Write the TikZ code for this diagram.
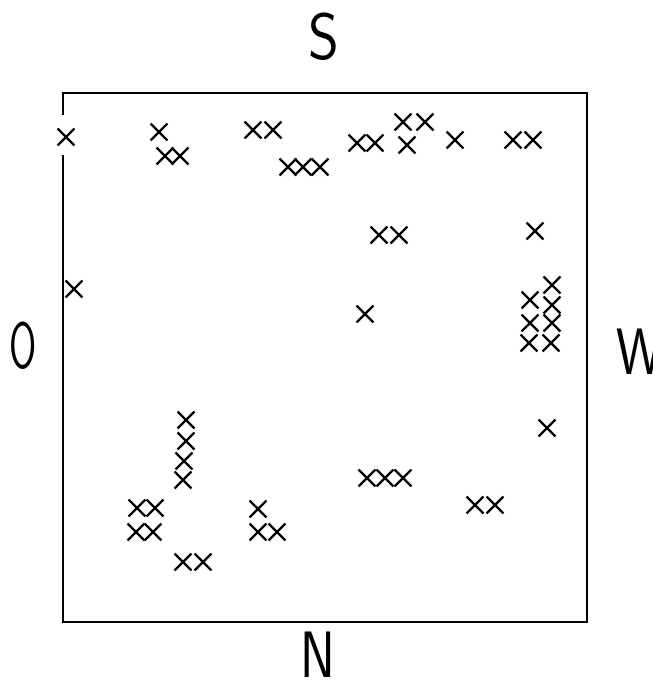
\documentclass[tikz,border=0pt]{standalone}
\usetikzlibrary{shapes.misc}

\begin{document}
\begin{tikzpicture}[x=0.03cm,y=-0.03cm,line width=1.6pt,
  cross/.style={cross out,draw,line width=1.9pt,minimum size=0.44cm,inner sep=0pt},
  side/.style={font={\fontsize{56}{56}\selectfont\sffamily}}]
\useasboundingbox (0,0) rectangle (652,681);
% frame, broken on the left where a cross sits on it
\draw (63,115)--(63,93)--(587,93)--(587,622)--(63,622)--(63,155);
\node[side] (south) at (324,37) {\scalebox{0.9}[1]{S}};
\node[side] (north) at (318,655) {\scalebox{0.8}[1]{N}};
\node[side] (east) at (23,346) {\scalebox{0.6}[1]{O}};
\node[side] (west) at (640,352) {\scalebox{0.8}[1]{W}};
% crosses
\foreach \px/\py [count=\k] in {66/137,159/132,165/156,180/156,253/130,273/130,
  288/167,303/167,320/167,357/143,375/143,403/122,425/122,407/145,455/140,
  513/140,533/140,74/289,379/235,399/235,535/231,365/314,552/285,530/300,
  552/305,530/323,552/323,529/343,551/343,186/420,186/441,184/461,183/480,
  137/508,155/508,136/532,153/532,258/509,258/532,277/532,183/562,203/562,
  547/428,367/478,385/478,403/478,475/505,495/505}
  \node[cross] (m\k) at (\px,\py) {};
\end{tikzpicture}
\end{document}
